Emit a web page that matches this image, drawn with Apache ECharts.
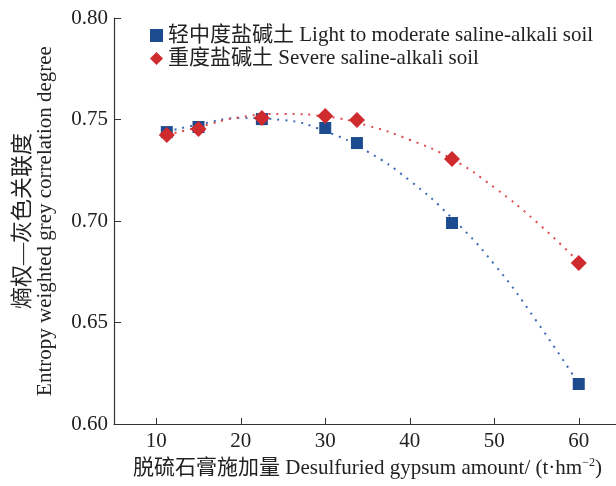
<!DOCTYPE html>
<html>
<head>
<meta charset="utf-8">
<script src="https://cdn.jsdelivr.net/npm/echarts@6/dist/echarts.min.js"></script>
<style>
  html, body { margin: 0; padding: 0; background: #fff; }
  #chart { width: 616px; height: 486px; }
</style>
</head>
<body>
<div id="chart"></div>
<script>
// 脱硫石膏施加量 (t/hm2)
const gypsum = [11.25, 15, 22.5, 30, 33.75, 45, 60];
// 轻中度盐碱土
const lightSoil = [0.7438, 0.7463, 0.7502, 0.7458, 0.7384, 0.699, 0.6197];
// 重度盐碱土
const severeSoil = [0.7424, 0.7453, 0.7507, 0.7517, 0.7498, 0.7305, 0.6793];

// 趋势线（从图上读取的点）
const trendX = [11.25, 15, 20, 25, 30, 35, 40, 45, 50, 55, 60];
const lightTrend = [0.744, 0.7475, 0.7507, 0.7497, 0.7442, 0.7342, 0.7199, 0.7014, 0.6787, 0.6507, 0.6197];
const severeTrend = [0.7424, 0.7462, 0.7512, 0.7527, 0.7515, 0.747, 0.740, 0.7305, 0.7165, 0.6995, 0.6798];

const xTicks = [10, 20, 30, 40, 50, 60];

const serif = '"Liberation Serif", "Noto Sans CJK SC", serif';
const BLUE = '#1c4b8f';
const RED = '#cf2a2e';

const pair = (xs, ys) => xs.map((x, i) => [x, ys[i]]);

const chart = echarts.init(document.getElementById('chart'));

const option = {
  animation: false,
  textStyle: { fontFamily: serif, color: '#222' },
  grid: { left: 114, right: -5, top: 18, bottom: 62, outerBoundsMode: 'none', containLabel: false },
  legend: {
    orient: 'vertical',
    left: 145,
    top: 20,
    itemGap: 2,
    itemWidth: 13,
    itemHeight: 13,
    textStyle: { fontFamily: serif, fontSize: 21, color: '#222' },
    data: [
      { name: '轻中度盐碱土 Light to moderate saline-alkali soil', icon: 'rect', itemStyle: { color: BLUE } },
      { name: '重度盐碱土 Severe saline-alkali soil', icon: 'diamond', itemStyle: { color: RED } }
    ]
  },
  xAxis: {
    type: 'value',
    min: 5,
    max: 65,
    name: '脱硫石膏施加量 Desulfuried gypsum amount/ (t·hm{sup|−2})',
    nameLocation: 'middle',
    nameGap: 33,
    nameTextStyle: {
      fontFamily: serif,
      fontSize: 21,
      color: '#222',
      rich: { sup: { fontSize: 12, padding: [0, 0, 10, 0], fontFamily: serif, color: '#222' } }
    },
    axisLine: { lineStyle: { color: '#333', width: 1.2 } },
    axisTick: { inside: true, length: 6, customValues: xTicks, lineStyle: { color: '#333' } },
    axisLabel: { customValues: xTicks, fontSize: 21, color: '#222', margin: 7, fontFamily: serif },
    splitLine: { show: false }
  },
  yAxis: {
    type: 'value',
    min: 0.6,
    max: 0.8,
    interval: 0.05,
    name: '{cn|熵权—灰色关联度}\nEntropy weighted grey correlation degree',
    nameLocation: 'middle',
    nameGap: 58,
    nameTextStyle: {
      fontFamily: serif,
      fontSize: 21,
      color: '#222',
      lineHeight: 22,
      rich: { cn: { fontSize: 22, fontFamily: serif, color: '#222', lineHeight: 22 } }
    },
    axisLine: { show: true, lineStyle: { color: '#333', width: 1.2 } },
    axisTick: { inside: true, length: 7, lineStyle: { color: '#333' } },
    axisLabel: {
      fontSize: 21,
      color: '#222',
      margin: 6,
      fontFamily: serif,
      formatter: (v) => v.toFixed(2)
    },
    splitLine: { show: false }
  },
  series: [
    {
      name: 'lightTrend',
      type: 'line',
      data: pair(trendX, lightTrend),
      smooth: true,
      showSymbol: false,
      silent: true,
      lineStyle: { color: '#3d6db3', width: 2, type: [2, 6] },
      z: 1
    },
    {
      name: 'severeTrend',
      type: 'line',
      data: pair(trendX, severeTrend),
      smooth: true,
      showSymbol: false,
      silent: true,
      lineStyle: { color: '#e04a4f', width: 2, type: [2, 6] },
      z: 1
    },
    {
      name: '轻中度盐碱土 Light to moderate saline-alkali soil',
      type: 'scatter',
      symbol: 'rect',
      symbolSize: 12,
      itemStyle: { color: BLUE, opacity: 1 },
      data: pair(gypsum, lightSoil),
      z: 3
    },
    {
      name: '重度盐碱土 Severe saline-alkali soil',
      type: 'scatter',
      symbol: 'diamond',
      symbolSize: 16,
      itemStyle: { color: RED, opacity: 1 },
      data: pair(gypsum, severeSoil),
      z: 4
    }
  ]
};

chart.setOption(option);
</script>
</body>
</html>
